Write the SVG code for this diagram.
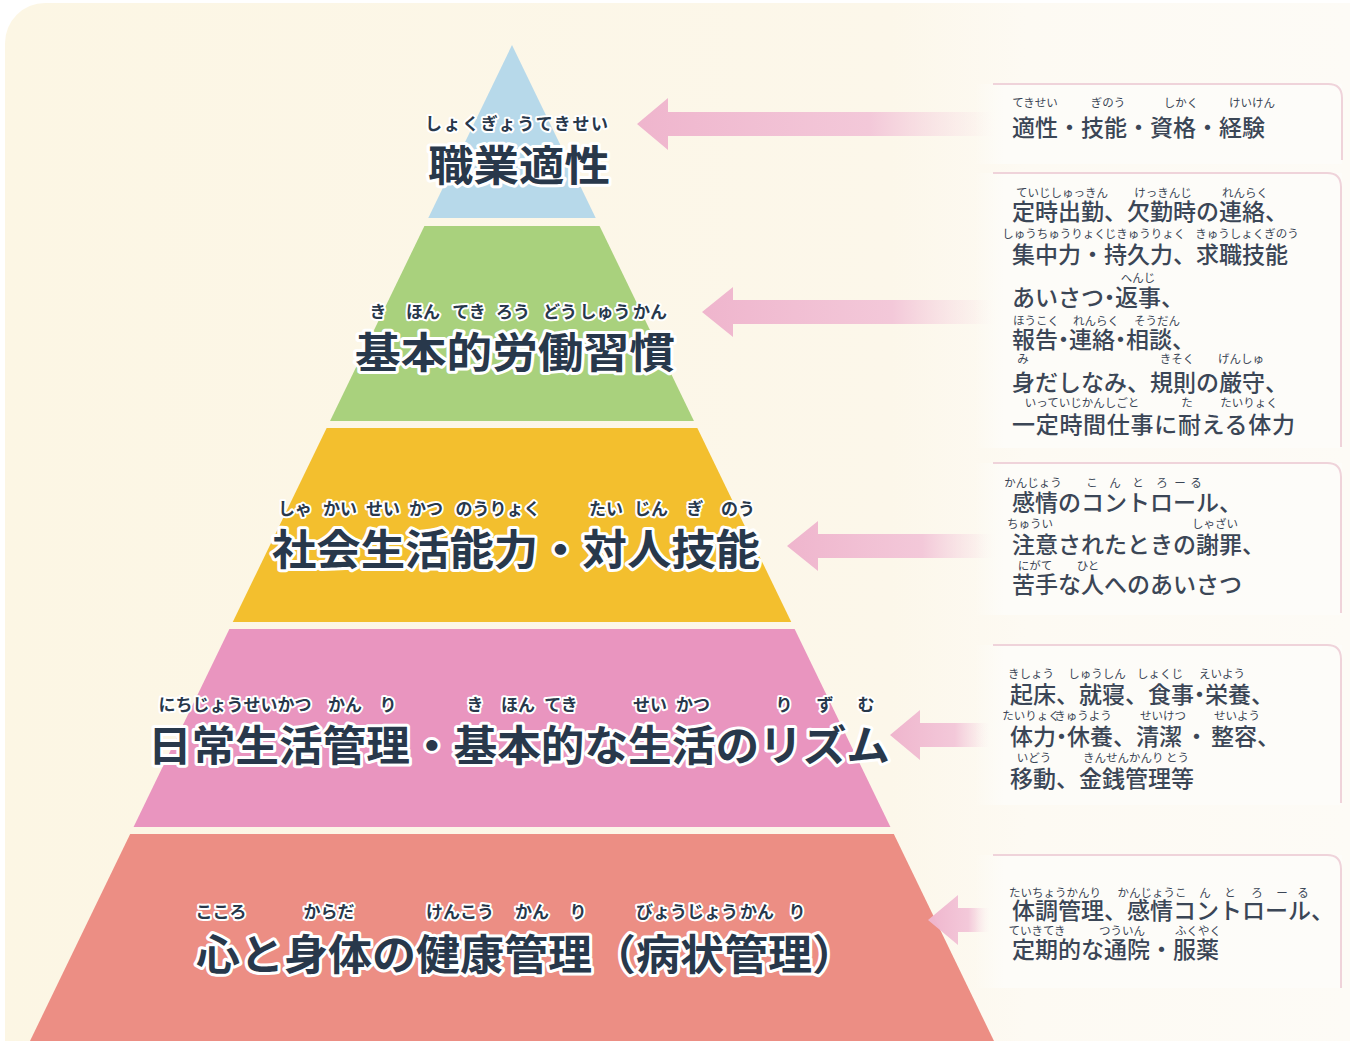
<svg xmlns="http://www.w3.org/2000/svg" width="1350" height="1041" viewBox="0 0 1350 1041">
<defs>
<style>
.lbl{font-family:"Noto Sans CJK JP","Noto Sans CJK SC",sans-serif;font-weight:700;fill:#28384b;stroke:#ffffff;stroke-width:6;stroke-linejoin:round;paint-order:stroke}
.lr{font-family:"Noto Sans CJK JP","Noto Sans CJK SC",sans-serif;font-weight:700;font-size:17px;fill:#28384b;stroke:#ffffff;stroke-width:4;stroke-linejoin:round;paint-order:stroke;text-anchor:middle}
.bt{font-family:"Noto Sans CJK JP","Noto Sans CJK SC",sans-serif;font-weight:500;font-size:23px;fill:#3b4656}
.br{font-family:"Noto Sans CJK JP","Noto Sans CJK SC",sans-serif;font-weight:400;font-size:11.5px;fill:#3b4656;text-anchor:middle}
.boxline{fill:none;stroke:#efd3da;stroke-width:2}
.arrow{fill:url(#ag)}
</style>
<linearGradient id="ag" x1="0" y1="0" x2="1" y2="0">
<stop offset="0" stop-color="#efb5cd"/>
<stop offset="0.65" stop-color="#f2c3d7" stop-opacity="0.9"/>
<stop offset="1" stop-color="#f6d6e2" stop-opacity="0"/>
</linearGradient>
<linearGradient id="bg" x1="0" y1="0" x2="1" y2="0">
<stop offset="0" stop-color="#fdfcf8" stop-opacity="0"/>
<stop offset="0.08" stop-color="#fdfcf8"/>
<stop offset="1" stop-color="#fdfcf9"/>
</linearGradient>
<linearGradient id="panel" x1="0" y1="0" x2="1350" y2="0" gradientUnits="userSpaceOnUse">
<stop offset="0" stop-color="#fcf6e4"/>
<stop offset="0.66" stop-color="#fcf7ea"/>
<stop offset="0.76" stop-color="#fdfaf3"/>
<stop offset="1" stop-color="#fdfbf6"/>
</linearGradient>
<clipPath id="tri"><polygon points="512,45 30,1041 994,1041"/></clipPath>
</defs>
<rect x="0" y="0" width="1350" height="1041" fill="#ffffff"/>
<rect x="5" y="3" width="1400" height="1100" rx="40" fill="url(#panel)"/>

<g id="pyramid" clip-path="url(#tri)">
<g id="layer-1"><rect x="0" y="0" width="1350" height="218" fill="#b7d9ea"/></g>
<g id="layer-2"><rect x="0" y="226" width="1350" height="195" fill="#a9d17d"/></g>
<g id="layer-3"><rect x="0" y="428" width="1350" height="194" fill="#f3bf2e"/></g>
<g id="layer-4"><rect x="0" y="629" width="1350" height="198" fill="#e995bf"/></g>
<g id="layer-5"><rect x="0" y="834" width="1350" height="207" fill="#ec8e84"/></g>
</g>

<g id="labels">
<g id="label-1">
<text class="lr" x="425" y="130" style="text-anchor:start" textLength="183">しょくぎょうてきせい</text>
<text class="lbl" x="428" y="181" font-size="42" textLength="182" lengthAdjust="spacingAndGlyphs">職業適性</text>
</g>
<g id="label-2">
<text class="lr" y="318"><tspan x="378">き</tspan><tspan x="423">ほん</tspan><tspan x="469">てき</tspan><tspan x="513">ろう</tspan><tspan x="560">どう</tspan><tspan x="605">しゅう</tspan><tspan x="650">かん</tspan></text>
<text class="lbl" x="355" y="368" font-size="42" textLength="320" lengthAdjust="spacingAndGlyphs">基本的労働習慣</text>
</g>
<g id="label-3">
<text class="lr" y="515"><tspan x="295">しゃ</tspan><tspan x="340">かい</tspan><tspan x="383">せい</tspan><tspan x="426">かつ</tspan><tspan x="498">のうりょく</tspan><tspan x="606">たい</tspan><tspan x="651">じん</tspan><tspan x="695">ぎ</tspan><tspan x="738">のう</tspan></text>
<text class="lbl" x="272" y="565" font-size="42" textLength="488" lengthAdjust="spacingAndGlyphs">社会生活能力・対人技能</text>
</g>
<g id="label-4">
<text class="lr" y="711"><tspan x="235">にちじょうせいかつ</tspan><tspan x="345">かん</tspan><tspan x="388">り</tspan><tspan x="475">き</tspan><tspan x="518">ほん</tspan><tspan x="561">てき</tspan><tspan x="650">せい</tspan><tspan x="693">かつ</tspan><tspan x="784">り</tspan><tspan x="825">ず</tspan><tspan x="866">む</tspan></text>
<text class="lbl" x="148" y="761" font-size="42" textLength="742" lengthAdjust="spacingAndGlyphs">日常生活管理・基本的な生活のリズム</text>
</g>
<g id="label-5">
<text class="lr" y="918"><tspan x="221">こころ</tspan><tspan x="329">からだ</tspan><tspan x="460">けんこう</tspan><tspan x="532">かん</tspan><tspan x="578">り</tspan><tspan x="687">びょうじょう</tspan><tspan x="757">かん</tspan><tspan x="797">り</tspan></text>
<text class="lbl" x="196" y="970" font-size="42" textLength="660" lengthAdjust="spacingAndGlyphs">心と身体の健康管理（病状管理）</text>
</g>
</g>

<g id="connectors">
<polygon class="arrow" points="637,124 668,98 668,112 995,112 995,136 668,136 668,150"/>
<polygon class="arrow" points="702,312 733,287 733,300 995,300 995,324 733,324 733,337"/>
<polygon class="arrow" points="787,546 818,521 818,534 995,534 995,558 818,558 818,571"/>
<polygon class="arrow" points="890,735 920,710 920,723 990,723 990,747 920,747 920,760"/>
<polygon class="arrow" points="928,920 958,895 958,908 990,908 990,932 958,932 958,945"/>
</g>

<g id="box-1">
<rect x="975" y="84" width="367" height="80" fill="url(#bg)"/>
<path class="boxline" d="M993,84 H1328 Q1342,84 1342,98 V160"/>
<text class="br" y="107"><tspan x="1035">てきせい</tspan><tspan x="1108">ぎのう</tspan><tspan x="1181">しかく</tspan><tspan x="1252">けいけん</tspan></text>
<text class="bt" x="1012" y="136" font-size="24">適性・技能・資格・経験</text>
</g>

<g id="box-2">
<rect x="975" y="173" width="367" height="275" fill="url(#bg)"/>
<path class="boxline" d="M993,173 H1327 Q1341,173 1341,187 V447"/>
<text class="br" y="197"><tspan x="1062">ていじしゅっきん</tspan><tspan x="1163">けっきんじ</tspan><tspan x="1245">れんらく</tspan></text>
<text class="bt" x="1012" y="220">定時出勤、欠勤時の連絡、</text>
<text class="br" y="238"><tspan x="1054">しゅうちゅうりょく</tspan><tspan x="1145">じきゅうりょく</tspan><tspan x="1247">きゅうしょくぎのう</tspan></text>
<text class="bt" x="1012" y="263">集中力・持久力、求職技能</text>
<text class="br" x="1138" y="282">へんじ</text>
<text class="bt" x="1012" y="306">あいさつ<tspan dx="-6">・</tspan><tspan dx="-6">返事、</tspan></text>
<text class="br" y="325"><tspan x="1036">ほうこく</tspan><tspan x="1096">れんらく</tspan><tspan x="1157">そうだん</tspan></text>
<text class="bt" x="1012" y="348">報告<tspan dx="-6">・</tspan><tspan dx="-6">連絡</tspan><tspan dx="-6">・</tspan><tspan dx="-6">相談、</tspan></text>
<text class="br" y="363"><tspan x="1023">み</tspan><tspan x="1177">きそく</tspan><tspan x="1241">げんしゅ</tspan></text>
<text class="bt" x="1012" y="391">身だしなみ、規則の厳守、</text>
<text class="br" y="407"><tspan x="1082">いっていじかんしごと</tspan><tspan x="1187">た</tspan><tspan x="1249">たいりょく</tspan></text>
<text class="bt" x="1012" y="433" textLength="283">一定時間仕事に耐える体力</text>
</g>

<g id="box-3">
<rect x="975" y="463" width="367" height="152" fill="url(#bg)"/>
<path class="boxline" d="M993,463 H1327 Q1341,463 1341,477 V613"/>
<text class="br" y="487"><tspan x="1033">かんじょう</tspan><tspan x="1092">こ</tspan><tspan x="1115">ん</tspan><tspan x="1138">と</tspan><tspan x="1162">ろ</tspan><tspan x="1180">ー</tspan><tspan x="1196">る</tspan></text>
<text class="bt" x="1012" y="511">感情のコントロール、</text>
<text class="br" y="528"><tspan x="1030">ちゅうい</tspan><tspan x="1215">しゃざい</tspan></text>
<text class="bt" x="1012" y="553">注意されたときの謝罪、</text>
<text class="br" y="570"><tspan x="1035">にがて</tspan><tspan x="1088">ひと</tspan></text>
<text class="bt" x="1012" y="593">苦手な人へのあいさつ</text>
</g>

<g id="box-4">
<rect x="975" y="645" width="367" height="160" fill="url(#bg)"/>
<path class="boxline" d="M993,645 H1327 Q1341,645 1341,659 V803"/>
<text class="br" y="678"><tspan x="1031">きしょう</tspan><tspan x="1097">しゅうしん</tspan><tspan x="1160">しょくじ</tspan><tspan x="1222">えいよう</tspan></text>
<text class="bt" x="1010" y="703">起床、就寝、食事<tspan dx="-6">・</tspan><tspan dx="-6">栄養、</tspan></text>
<text class="br" y="720"><tspan x="1031">たいりょく</tspan><tspan x="1083">きゅうよう</tspan><tspan x="1163">せいけつ</tspan><tspan x="1237">せいよう</tspan></text>
<text class="bt" x="1010" y="745">体力<tspan dx="-6">・</tspan><tspan dx="-6">休養、清潔</tspan><tspan dx="3">・</tspan><tspan dx="3">整容、</tspan></text>
<text class="br" y="762"><tspan x="1034">いどう</tspan><tspan x="1136">きんせんかんり とう</tspan></text>
<text class="bt" x="1010" y="787">移動、金銭管理等</text>
</g>

<g id="box-5">
<rect x="975" y="855" width="367" height="133" fill="url(#bg)"/>
<path class="boxline" d="M993,855 H1327 Q1341,855 1341,869 V988"/>
<text class="br" y="897"><tspan x="1055">たいちょうかんり</tspan><tspan x="1152">かんじょうこ</tspan><tspan x="1205">ん</tspan><tspan x="1230">と</tspan><tspan x="1257">ろ</tspan><tspan x="1282">ー</tspan><tspan x="1303">る</tspan></text>
<text class="bt" x="1012" y="919">体調管理、感情コントロール、</text>
<text class="br" y="935"><tspan x="1037">ていきてき</tspan><tspan x="1122">つういん</tspan><tspan x="1198">ふくやく</tspan></text>
<text class="bt" x="1012" y="958">定期的な通院・服薬</text>
</g>
</svg>
